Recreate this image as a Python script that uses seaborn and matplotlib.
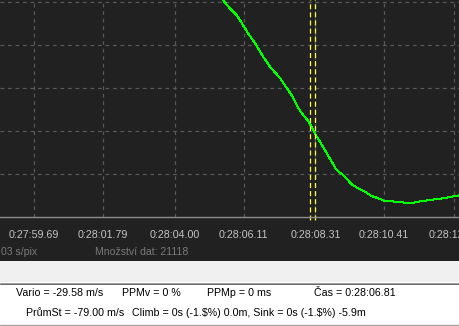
import matplotlib
matplotlib.use("Agg")
import matplotlib.pyplot as plt
from matplotlib.patches import Rectangle
from matplotlib.lines import Line2D
import seaborn as sns
import pandas as pd

# ---- data ----
time_s = [65.45, 65.48, 65.69, 65.90, 66.25, 66.46, 66.71, 66.92, 67.23, 67.58,
          67.79, 67.94, 68.11, 68.32, 68.45, 68.66, 68.81, 68.96, 69.22, 69.42,
          69.62, 69.83, 70.03, 70.24, 70.44, 70.80, 71.21, 71.46, 71.82, 72.23,
          72.59, 72.75]
altitude = [50.93, 50.47, 48.53, 46.98, 42.72, 40.40, 37.28, 34.95, 32.26, 28.37,
            25.28, 23.72, 22.16, 19.07, 17.51, 14.81, 12.86, 10.93, 9.37, 7.60,
            6.67, 5.88, 4.88, 4.35, 3.72, 3.56, 3.19, 3.56, 3.95, 4.35,
            4.88, 5.05]
tick_pos = [59.69, 61.79, 64.00, 66.11, 68.31, 70.41, 72.55]
tick_labels = ["0:27:59.69", "0:28:01.79", "0:28:04.00", "0:28:06.11",
               "0:28:08.31", "0:28:10.41", "0:28:12.55"]
grid_y = [10, 20, 30, 40, 50]
cursor_s = [68.13, 68.30]
x_range = [58.649, 72.74]
y_range = [0, 50.47]
status_row1 = ["03 s/pix", "Množství dat: 21118"]
panel_row1 = ["Vario = -29.58 m/s", "PPMv = 0 %", "PPMp = 0 ms", "Čas = 0:28:06.81"]
panel_row2 = ["PrůmSt = -79.00 m/s",
              "Climb = 0s (-1.$%) 0.0m, Sink = 0s (-1.$%) -5.9m"]

df = pd.DataFrame({"t": time_s, "alt": altitude})

sns.set_theme(style="dark")
plt.rcParams['font.family'] = ['Liberation Sans', 'DejaVu Sans']
plt.rcParams['text.parse_math'] = False

W, H = 460, 326
fig = plt.figure(figsize=(W / 100, H / 100), dpi=100, facecolor="white")

def fy(py):
    return 1 - py / H

BG = "#212121"
# background regions
fig.patches.append(Rectangle((0, fy(261)), 1, 261 / H, transform=fig.transFigure,
                             facecolor=BG, edgecolor="none", zorder=-10))
fig.patches.append(Rectangle((0, fy(282)), 1, 21 / H, transform=fig.transFigure,
                             facecolor="#f0f0f0", edgecolor="none", zorder=-10))
fig.patches.append(Rectangle((0, fy(326)), 1, 2 / H, transform=fig.transFigure,
                             facecolor="#f0f0f0", edgecolor="none", zorder=-10))
for py, c in [(282.5, "#a0a0a0"), (283.5, "#696969"), (324.5, "#a0a0a0")]:
    fig.lines.append(Line2D([0, 1], [fy(py), fy(py)], transform=fig.transFigure,
                            color=c, lw=0.72, zorder=-5))

ax = fig.add_axes([0, fy(217), 1, 217 / H])
ax.set_facecolor(BG)
ax.set_zorder(1)

sns.lineplot(data=df, x="t", y="alt", ax=ax, color="#00ff00", lw=0.72,
             antialiased=False, zorder=4)

for c in cursor_s:
    ax.axvline(c, ymin=-0.012, ymax=1, color="#ffff40", lw=0.9,
               linestyle=(0, (4, 2.5)), zorder=5, clip_on=False)

ax.set_xlim(*x_range)
ax.set_ylim(*y_range)
ax.set_xticks(tick_pos)
ax.set_xticklabels(tick_labels)
ax.set_yticks(grid_y)
ax.set_yticklabels([])
ax.set_xlabel("")
ax.set_ylabel("")
ax.grid(True, color="#585858", lw=0.9, linestyle=(0, (3, 3)))
ax.tick_params(axis="x", direction="in", length=3, width=0.8, color="#8c8c8c",
               pad=9.5, labelsize=7.7, labelcolor="#c4c4c4")
ax.tick_params(axis="y", length=0)
for s in ["top", "left", "right"]:
    ax.spines[s].set_visible(False)
ax.spines["bottom"].set_color("#8c8c8c")
ax.spines["bottom"].set_linewidth(1.0)
ax.spines["bottom"].set_zorder(6)

# status row under the axis
fig.text(1 / W, fy(252), status_row1[0], color="#7a7a7a", fontsize=7.6, va="center")
fig.text(95 / W, fy(252), status_row1[1], color="#7a7a7a", fontsize=7.6, va="center")

# info panel
for x, s in zip([16, 121.7, 206.7, 314.3], panel_row1):
    fig.text(x / W, fy(293.5), s, color="black", fontsize=7.7, va="center")
for x, s in zip([26, 131.7], panel_row2):
    fig.text(x / W, fy(313.5), s, color="black", fontsize=7.7, va="center")

fig.savefig("out.png", dpi=100, facecolor="white")
